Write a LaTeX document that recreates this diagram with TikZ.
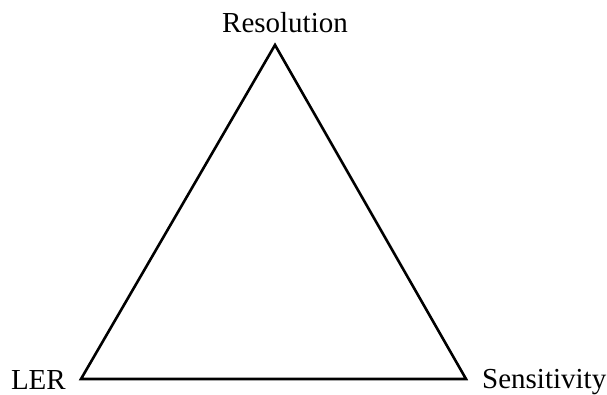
\documentclass[tikz,border=0pt]{standalone}
\usepackage{fontspec}
\setmainfont{Liberation Serif}
\begin{document}
\begin{tikzpicture}[x=1pt,y=1pt,
  lbl/.style={inner sep=0pt,font=\fontsize{29}{34}\selectfont},
  edge/.style={line width=2.6pt,line join=miter}]
\useasboundingbox (0,0) rectangle (607,395);
\coordinate (top) at (275,350);
\coordinate (bl) at (81,16);
\coordinate (br) at (466,16);
\node[lbl,anchor=base] (res) at (285,362) {Resolution};
\node[lbl,anchor=base east] (ler) at (66,5) {LER};
\node[lbl,anchor=base west] (sen) at (482,6) {Sensitivity};
\draw[edge] (top) -- (bl) -- (br) -- cycle;
\end{tikzpicture}
\end{document}
